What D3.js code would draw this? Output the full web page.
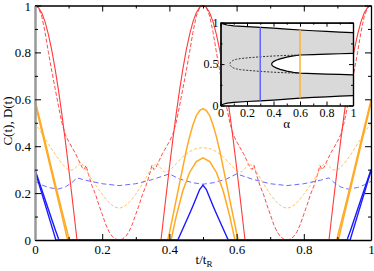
<!DOCTYPE html>
<html>
<head>
<meta charset="utf-8">
<script src="https://cdn.jsdelivr.net/npm/d3@7/dist/d3.min.js"></script>
<style>
body { margin: 0; background: #fff; }
svg text { font-family: "Liberation Serif", "DejaVu Serif", serif; fill: #000; }
</style>
</head>
<body>
<div id="chart"></div>
<script>
// values, [t/tR, value]
var redSolid = [[0,1],[0.01,0.992],[0.02,0.969],[0.03,0.93],[0.04,0.876],[0.05,0.809],[0.06,0.729],[0.07,0.637],[0.08,0.536],[0.09,0.426],[0.1,0.309],[0.11,0.187],[0.12,0.063],[0.125,0],
  [0.375,0],[0.38,0.063],[0.39,0.187],[0.4,0.309],[0.41,0.426],[0.42,0.536],[0.43,0.637],[0.44,0.729],[0.45,0.809],[0.46,0.876],[0.47,0.93],[0.48,0.969],[0.49,0.992],[0.5,1],
  [0.51,0.992],[0.52,0.969],[0.53,0.93],[0.54,0.876],[0.55,0.809],[0.56,0.729],[0.57,0.637],[0.58,0.536],[0.59,0.426],[0.6,0.309],[0.61,0.187],[0.62,0.063],[0.625,0],
  [0.875,0],[0.88,0.063],[0.89,0.187],[0.9,0.309],[0.91,0.426],[0.92,0.536],[0.93,0.637],[0.94,0.729],[0.95,0.809],[0.96,0.876],[0.97,0.93],[0.98,0.969],[0.99,0.992],[1,1]];

var redDashed = [[0,1],[0.01,0.99],[0.02,0.955],[0.03,0.885],[0.04,0.8],[0.05,0.72],[0.06,0.645],[0.07,0.57],[0.08,0.5],[0.09,0.45],[0.1,0.42],[0.11,0.395],[0.12,0.37],[0.13,0.34],[0.14,0.31],[0.146,0.3],[0.152,0.318],[0.16,0.275],[0.17,0.23],[0.18,0.195],[0.19,0.15],[0.2,0.11],[0.21,0.068],[0.22,0.036],[0.23,0.015],[0.24,0.004],[0.25,0],
  [0.26,0.004],[0.27,0.015],[0.28,0.036],[0.29,0.068],[0.3,0.11],[0.31,0.15],[0.32,0.195],[0.33,0.23],[0.34,0.275],[0.348,0.318],[0.354,0.3],[0.36,0.31],[0.37,0.34],[0.38,0.37],[0.39,0.395],[0.4,0.42],[0.41,0.45],[0.42,0.5],[0.43,0.57],[0.44,0.645],[0.45,0.72],[0.46,0.8],[0.47,0.885],[0.48,0.955],[0.49,0.99],[0.5,1],
  [0.51,0.99],[0.52,0.955],[0.53,0.885],[0.54,0.8],[0.55,0.72],[0.56,0.645],[0.57,0.57],[0.58,0.5],[0.59,0.45],[0.6,0.42],[0.61,0.395],[0.62,0.37],[0.63,0.34],[0.64,0.31],[0.646,0.3],[0.652,0.318],[0.66,0.275],[0.67,0.23],[0.68,0.195],[0.69,0.15],[0.7,0.11],[0.71,0.068],[0.72,0.036],[0.73,0.015],[0.74,0.004],[0.75,0],
  [0.76,0.004],[0.77,0.015],[0.78,0.036],[0.79,0.068],[0.8,0.11],[0.81,0.15],[0.82,0.195],[0.83,0.23],[0.84,0.275],[0.848,0.318],[0.854,0.3],[0.86,0.31],[0.87,0.34],[0.88,0.37],[0.89,0.395],[0.9,0.42],[0.91,0.45],[0.92,0.5],[0.93,0.57],[0.94,0.645],[0.95,0.72],[0.96,0.8],[0.97,0.885],[0.98,0.955],[0.99,0.99],[1,1]];

var orangeOuter = [[0,0.596],[0.02,0.48],[0.04,0.36],[0.06,0.24],[0.08,0.125],[0.1,0.012],[0.102,0],
  [0.395,0],[0.4,0.03],[0.41,0.1],[0.42,0.17],[0.43,0.24],[0.44,0.31],[0.45,0.38],[0.46,0.44],[0.47,0.49],[0.48,0.53],[0.49,0.552],[0.5,0.56],
  [0.51,0.552],[0.52,0.53],[0.53,0.49],[0.54,0.44],[0.55,0.38],[0.56,0.31],[0.57,0.24],[0.58,0.17],[0.59,0.1],[0.6,0.03],[0.605,0],
  [0.898,0],[0.9,0.012],[0.92,0.125],[0.94,0.24],[0.96,0.36],[0.98,0.48],[1,0.596]];

var orangeInner = [[0,0.585],[0.02,0.465],[0.04,0.345],[0.06,0.225],[0.08,0.105],[0.097,0],
  [0.405,0],[0.42,0.1],[0.44,0.21],[0.46,0.288],[0.48,0.334],[0.5,0.35],[0.52,0.334],[0.54,0.288],[0.56,0.21],[0.58,0.1],[0.595,0],
  [0.903,0],[0.92,0.105],[0.94,0.225],[0.96,0.345],[0.98,0.465],[1,0.585]];

var orangeDashed = [[0,0.5],[0.02,0.455],[0.04,0.41],[0.06,0.365],[0.08,0.325],[0.1,0.298],[0.115,0.3],[0.128,0.318],[0.137,0.33],[0.145,0.315],[0.16,0.28],[0.18,0.235],[0.2,0.195],[0.22,0.16],[0.235,0.142],[0.25,0.135],
  [0.265,0.142],[0.28,0.16],[0.3,0.195],[0.32,0.24],[0.34,0.29],[0.355,0.318],[0.363,0.33],[0.372,0.31],[0.385,0.29],[0.4,0.295],[0.42,0.325],[0.44,0.355],[0.46,0.377],[0.48,0.39],[0.5,0.394],
  [0.52,0.39],[0.54,0.377],[0.56,0.355],[0.58,0.325],[0.6,0.295],[0.615,0.29],[0.628,0.31],[0.637,0.33],[0.645,0.318],[0.66,0.29],[0.68,0.24],[0.7,0.195],[0.72,0.16],[0.735,0.142],[0.75,0.135],
  [0.765,0.142],[0.78,0.16],[0.8,0.195],[0.82,0.235],[0.84,0.28],[0.855,0.315],[0.863,0.33],[0.872,0.318],[0.885,0.3],[0.9,0.298],[0.92,0.325],[0.94,0.365],[0.96,0.41],[0.98,0.455],[1,0.5]];

var blueOuter = [[0,0.3],[0.02,0.215],[0.04,0.13],[0.06,0.045],[0.07,0.005],[0.072,0],
  [0.425,0],[0.43,0.016],[0.44,0.048],[0.45,0.08],[0.46,0.112],[0.47,0.145],[0.48,0.18],[0.49,0.215],[0.5,0.234],
  [0.51,0.215],[0.52,0.18],[0.53,0.145],[0.54,0.112],[0.55,0.08],[0.56,0.048],[0.57,0.016],[0.575,0],
  [0.928,0],[0.93,0.005],[0.94,0.045],[0.96,0.13],[0.98,0.215],[1,0.3]];

var blueInner = [[0,0.295],[0.02,0.2],[0.04,0.105],[0.06,0.01],[0.062,0],[0.938,0],[0.94,0.01],[0.96,0.105],[0.98,0.2],[1,0.295]];

var blueDashed = [[0,0.25],[0.02,0.235],[0.04,0.224],[0.068,0.217],[0.09,0.226],[0.11,0.245],[0.125,0.265],[0.15,0.255],[0.2,0.24],[0.25,0.232],[0.3,0.24],[0.35,0.258],[0.4,0.282],
  [0.43,0.26],[0.47,0.244],[0.5,0.238],[0.53,0.244],[0.57,0.26],[0.6,0.282],[0.65,0.258],[0.7,0.24],[0.75,0.232],[0.8,0.24],[0.85,0.255],[0.875,0.265],[0.89,0.245],[0.91,0.226],[0.932,0.217],[0.96,0.224],[0.98,0.235],[1,0.25]];

var xTicks = [0, 0.2, 0.4, 0.6, 0.8, 1];
var xTickLabels = ["0", "0.2", "0.4", "0.6", "0.8", "1"];
var yTicks = [0, 0.2, 0.4, 0.6, 0.8, 1];
var yTickLabels = ["0", "0.2", "0.4", "0.6", "0.8", "1"];
var minorTicks = [0.1, 0.3, 0.5, 0.7, 0.9];

// inset: phase diagram over alpha
var insetAlpha = [0, 0.02, 0.05, 0.1, 0.2, 0.3, 0.4, 0.5, 0.6, 0.7, 0.8, 0.9, 1];
var insetTop = [1, 0.985, 0.972, 0.962, 0.952, 0.944, 0.934, 0.922, 0.912, 0.903, 0.895, 0.887, 0.88];
var insetBottom = [0, 0.015, 0.028, 0.038, 0.048, 0.056, 0.066, 0.078, 0.088, 0.097, 0.105, 0.113, 0.12];
var whiteAlpha = [0.386, 0.39, 0.4, 0.42, 0.45, 0.5, 0.55, 0.6, 0.7, 0.8, 0.9, 1];
var whiteUpper = [0.5, 0.516, 0.53, 0.546, 0.563, 0.584, 0.6, 0.61, 0.615, 0.62, 0.625, 0.63];
var whiteLower = [0.5, 0.484, 0.47, 0.454, 0.437, 0.416, 0.4, 0.39, 0.385, 0.38, 0.375, 0.37];
var dotAlpha = [0.07, 0.072, 0.075, 0.08, 0.09, 0.1, 0.12, 0.15, 0.2, 0.3, 0.4, 0.5, 0.6];
var dotUpper = [0.5, 0.51, 0.52, 0.528, 0.54, 0.548, 0.558, 0.567, 0.575, 0.588, 0.598, 0.605, 0.61];
var dotLower = [0.5, 0.49, 0.48, 0.472, 0.46, 0.452, 0.442, 0.433, 0.425, 0.412, 0.402, 0.395, 0.39];
var markAlpha = [0.3, 0.6];
var markTop = [0.944, 0.912];
var markBottom = [0.056, 0.088];
var markColors = ["#6464ff", "#ffb030"];
var insetXTicks = [0, 0.2, 0.4, 0.6, 0.8, 1];
var insetXLabels = ["0", "0.2", "0.4", "0.6", "0.8", "1"];
var insetYTicks = [0, 0.5, 1];
var insetYLabels = ["0", "0.5", "1"];

var svgWidth = 374;
var svgHeight = 271;
var margin = { top: 5.5, right: 3, bottom: 31, left: 35 };
var width = svgWidth - margin.left - margin.right;
var height = svgHeight - margin.top - margin.bottom;

var svg = d3.select("#chart")
  .append("svg")
  .attr("width", svgWidth)
  .attr("height", svgHeight);

var chartGroup = svg.append("g")
  .attr("transform", `translate(${margin.left}, ${margin.top})`);

var xScale = d3.scaleLinear().domain([0, 1]).range([0, width]);
var yScale = d3.scaleLinear().domain([0, 1]).range([height, 0]);

var line = d3.line()
  .x(d => xScale(d[0]))
  .y(d => yScale(d[1]));

var curves = [
  { data: redDashed, color: "#ff4a4a", w: 1, dash: "4,2" },
  { data: orangeDashed, color: "#ffc060", w: 1, dash: "3,2" },
  { data: blueDashed, color: "#6a6aff", w: 1, dash: "5,3" },
  { data: redSolid, color: "#ff3a3a", w: 1.1, dash: null },
  { data: orangeInner, color: "#ffaa22", w: 1.5, dash: null },
  { data: orangeOuter, color: "#ffaa22", w: 1.5, dash: null },
  { data: blueInner, color: "#1a1aff", w: 1.4, dash: null },
  { data: blueOuter, color: "#1a1aff", w: 1.4, dash: null }
];

curves.forEach(function(c) {
  chartGroup.append("path")
    .datum(c.data)
    .attr("d", line)
    .attr("fill", "none")
    .attr("stroke", c.color)
    .attr("stroke-width", c.w)
    .attr("stroke-dasharray", c.dash);
});

// axes, ticks pointing inward on all four sides
function styleAxis(g) {
  g.attr("font-family", null);
  g.selectAll("text").style("font-size", "13px");
  g.selectAll("line").attr("stroke", "#000");
  g.select(".domain").attr("stroke", "#000").attr("stroke-width", 1.3);
}

chartGroup.append("g")
  .attr("transform", `translate(0, ${height})`)
  .call(d3.axisBottom(xScale).tickValues(xTicks).tickFormat((d, i) => xTickLabels[i]).tickSize(-6).tickSizeOuter(0).tickPadding(5))
  .call(styleAxis);
chartGroup.append("g")
  .attr("transform", `translate(0, ${height})`)
  .call(d3.axisBottom(xScale).tickValues(minorTicks).tickFormat("").tickSize(-3).tickSizeOuter(0))
  .call(g => g.select(".domain").remove())
  .call(styleAxis);
chartGroup.append("g")
  .call(d3.axisTop(xScale).tickValues(xTicks).tickFormat("").tickSize(-6).tickSizeOuter(0))
  .call(styleAxis);
chartGroup.append("g")
  .call(d3.axisTop(xScale).tickValues(minorTicks).tickFormat("").tickSize(-3).tickSizeOuter(0))
  .call(g => g.select(".domain").remove())
  .call(styleAxis);

chartGroup.append("g")
  .call(d3.axisLeft(yScale).tickValues(yTicks).tickFormat((d, i) => yTickLabels[i]).tickSize(-6).tickSizeOuter(0).tickPadding(4))
  .call(styleAxis)
  .call(g => g.select(".domain").attr("stroke", "#999").attr("stroke-width", 2.5))
  .call(g => g.selectAll("text").filter((d, i) => i === yTicks.length - 1).attr("dy", "0.42em"));
chartGroup.append("g")
  .call(d3.axisLeft(yScale).tickValues(minorTicks).tickFormat("").tickSize(-3).tickSizeOuter(0))
  .call(g => g.select(".domain").remove())
  .call(styleAxis);
chartGroup.append("g")
  .attr("transform", `translate(${width}, 0)`)
  .call(d3.axisRight(yScale).tickValues(yTicks).tickFormat("").tickSize(-6).tickSizeOuter(0))
  .call(styleAxis);
chartGroup.append("g")
  .attr("transform", `translate(${width}, 0)`)
  .call(d3.axisRight(yScale).tickValues(minorTicks).tickFormat("").tickSize(-3).tickSizeOuter(0))
  .call(g => g.select(".domain").remove())
  .call(styleAxis);

// axis labels
svg.append("text")
  .attr("transform", "rotate(-90)")
  .attr("x", -121)
  .attr("y", 12)
  .attr("text-anchor", "middle")
  .style("font-size", "13px")
  .text("C(t), D(t)");

var xLabel = svg.append("text")
  .attr("x", 204)
  .attr("y", 264)
  .attr("text-anchor", "middle")
  .style("font-size", "13px");
xLabel.append("tspan").text("t/t");
xLabel.append("tspan").attr("dy", 3).style("font-size", "9px").text("R");

// inset
var inset = { left: 220.5, top: 22.7, width: 132.5, height: 82.8 };
var insetGroup = svg.append("g")
  .attr("transform", `translate(${inset.left}, ${inset.top})`);

var ix = d3.scaleLinear().domain([0, 1]).range([0, inset.width]);
var iy = d3.scaleLinear().domain([0, 1]).range([inset.height, 0]);

insetGroup.append("rect")
  .attr("width", inset.width)
  .attr("height", inset.height)
  .attr("fill", "#fff");

var band = d3.area()
  .x(d => ix(d.a))
  .y0(d => iy(d.lo))
  .y1(d => iy(d.hi));

insetGroup.append("path")
  .datum(insetAlpha.map((a, i) => ({ a: a, lo: insetBottom[i], hi: insetTop[i] })))
  .attr("d", band)
  .attr("fill", "#d9d9d9");

insetGroup.append("path")
  .datum(whiteAlpha.map((a, i) => ({ a: a, lo: whiteLower[i], hi: whiteUpper[i] })))
  .attr("d", band)
  .attr("fill", "#fff");

var iline = d3.line()
  .x(d => ix(d[0]))
  .y(d => iy(d[1]));

insetGroup.selectAll(".bound")
  .data([
    insetAlpha.map((a, i) => [a, insetTop[i]]),
    insetAlpha.map((a, i) => [a, insetBottom[i]]),
    whiteAlpha.map((a, i) => [a, whiteUpper[i]]).reverse().concat(whiteAlpha.map((a, i) => [a, whiteLower[i]]).slice(1))
  ])
  .enter()
  .append("path")
  .attr("class", "bound")
  .attr("d", iline)
  .attr("fill", "none")
  .attr("stroke", "#000")
  .attr("stroke-width", 1.2);

insetGroup.append("path")
  .datum(dotAlpha.map((a, i) => [a, dotUpper[i]]).reverse().concat(dotAlpha.map((a, i) => [a, dotLower[i]]).slice(1)))
  .attr("d", iline)
  .attr("fill", "none")
  .attr("stroke", "#333")
  .attr("stroke-width", 1)
  .attr("stroke-dasharray", "2,1.5");

insetGroup.selectAll(".mark")
  .data(markAlpha)
  .enter()
  .append("line")
  .attr("class", "mark")
  .attr("x1", d => ix(d))
  .attr("x2", d => ix(d))
  .attr("y1", (d, i) => iy(markTop[i]))
  .attr("y2", (d, i) => iy(markBottom[i]))
  .attr("stroke", (d, i) => markColors[i])
  .attr("stroke-width", 1.5);

function styleInsetAxis(g) {
  g.attr("font-family", null);
  g.selectAll("text").style("font-size", "12px");
  g.selectAll("line").attr("stroke", "#000");
  g.select(".domain").attr("stroke", "#000").attr("stroke-width", 1.2);
}

insetGroup.append("g")
  .attr("transform", `translate(0, ${inset.height})`)
  .call(d3.axisBottom(ix).tickValues(insetXTicks).tickFormat((d, i) => insetXLabels[i]).tickSize(-4).tickSizeOuter(0).tickPadding(3))
  .call(styleInsetAxis);
insetGroup.append("g")
  .attr("transform", `translate(0, ${inset.height})`)
  .call(d3.axisBottom(ix).tickValues(minorTicks).tickFormat("").tickSize(-2).tickSizeOuter(0))
  .call(styleInsetAxis);
insetGroup.append("g")
  .call(d3.axisTop(ix).tickValues(insetXTicks).tickFormat("").tickSize(-4).tickSizeOuter(0))
  .call(styleInsetAxis);
insetGroup.append("g")
  .call(d3.axisTop(ix).tickValues(minorTicks).tickFormat("").tickSize(-2).tickSizeOuter(0))
  .call(styleInsetAxis);
insetGroup.append("g")
  .call(d3.axisLeft(iy).tickValues(insetYTicks).tickFormat((d, i) => insetYLabels[i]).tickSize(-4).tickSizeOuter(0).tickPadding(2))
  .call(styleInsetAxis);
insetGroup.append("g")
  .call(d3.axisLeft(iy).tickValues([0.25, 0.75]).tickFormat("").tickSize(-2).tickSizeOuter(0))
  .call(styleInsetAxis);
insetGroup.append("g")
  .attr("transform", `translate(${inset.width}, 0)`)
  .call(d3.axisRight(iy).tickValues(insetYTicks).tickFormat("").tickSize(-4).tickSizeOuter(0))
  .call(styleInsetAxis);
insetGroup.append("g")
  .attr("transform", `translate(${inset.width}, 0)`)
  .call(d3.axisRight(iy).tickValues([0.25, 0.75]).tickFormat("").tickSize(-2).tickSizeOuter(0))
  .call(styleInsetAxis);

insetGroup.append("text")
  .attr("x", ix(0.5))
  .attr("y", inset.height + 23)
  .attr("text-anchor", "middle")
  .style("font-size", "13px")
  .text("α");
</script>
</body>
</html>
